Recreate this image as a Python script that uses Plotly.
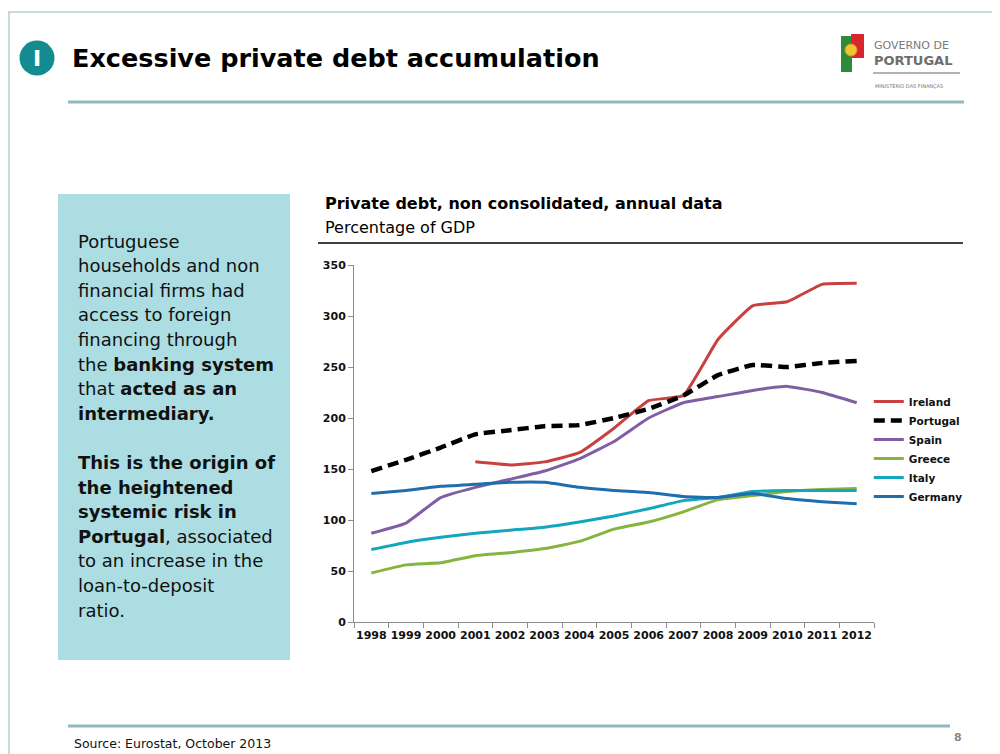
import plotly.graph_objects as go

years = [str(y) for y in range(1998, 2013)]
ireland = [None, None, None, 157, 154, 157, 166, 190, 217, 222, 277, 310, 314, 331, 332]
portugal = [148, 159, 171, 184, 188, 192, 193, 200, 209, 222, 242, 252, 250, 254, 256]
spain = [87, 97, 122, 132, 140, 148, 160, 177, 200, 215, 221, 227, 231, 225, 215]
greece = [48, 56, 58, 65, 68, 72, 79, 91, 98, 108, 120, 124, 128, 130, 131]
italy = [71, 78, 83, 87, 90, 93, 98, 104, 111, 119, 122, 128, 129, 129, 129]
germany = [126, 129, 133, 135, 137, 137, 132, 129, 127, 123, 122, 126, 121, 118, 116]

series = [
    ("Ireland", ireland, "#c8403f", "solid", 3),
    ("Portugal", portugal, "#000000", "11px,6px", 4.5),
    ("Spain", spain, "#7f5ea3", "solid", 3),
    ("Greece", greece, "#86b43f", "solid", 3),
    ("Italy", italy, "#14a6bd", "solid", 3),
    ("Germany", germany, "#1f6dad", "solid", 3),
]

FONT = "DejaVu Sans"

fig = go.Figure()
for name, vals, col, dash, w in series:
    fig.add_trace(go.Scatter(
        x=years, y=vals, name=name, mode="lines",
        line=dict(color=col, width=w, dash=dash, shape="spline", smoothing=0.35),
        connectgaps=False,
    ))

axis_col = "#8c8c8c"
# page is offset by 8px body margin; plot area in page px: x 354-874, y 265-622
fig.update_layout(
    width=992, height=746,
    paper_bgcolor="white", plot_bgcolor="white",
    margin=dict(l=346, r=126, t=257, b=132),
    showlegend=True,
    legend=dict(
        x=0.99, xanchor="left", y=0.658, yanchor="top",
        font=dict(family=FONT, size=10.5, color="#111", weight="bold"),
        itemwidth=30, tracegroupgap=0, bgcolor="rgba(0,0,0,0)",
    ),
    xaxis=dict(
        type="category", range=[-0.5, 14.5], showline=True, linecolor=axis_col, linewidth=1,
        ticks="outside", tickson="boundaries", ticklen=5, tickcolor=axis_col,
        showgrid=False, zeroline=False, tickangle=0, ticklabelstandoff=3,
        tickfont=dict(family=FONT, size=11, color="#111", weight="bold"),
    ),
    yaxis=dict(
        range=[0, 350], tickvals=[0, 50, 100, 150, 200, 250, 300, 350],
        showline=True, linecolor=axis_col, linewidth=1,
        ticks="outside", ticklen=5, tickcolor=axis_col,
        showgrid=False, zeroline=False,
        tickfont=dict(family=FONT, size=11, color="#111", weight="bold"),
    ),
    font=dict(family=FONT),
)

shapes = []
def px_line(x0, y0, x1, y1, color, width):
    shapes.append(dict(type="line", xref="paper", yref="paper",
                       x0=(x0-354)/520, x1=(x1-354)/520,
                       y0=(622-y0)/357, y1=(622-y1)/357,
                       line=dict(color=color, width=width)))
def px_rect(x0, y0, x1, y1, fill, lw=0, lc=None):
    shapes.append(dict(type="rect", xref="paper", yref="paper",
                       x0=(x0-354)/520, x1=(x1-354)/520,
                       y0=(622-y1)/357, y1=(622-y0)/357,
                       fillcolor=fill, line=dict(width=lw, color=lc or fill), layer="below"))
def px_circle(cx, cy, r, fill, lw=0, lc=None):
    shapes.append(dict(type="circle", xref="paper", yref="paper",
                       x0=(cx-r-354)/520, x1=(cx+r-354)/520,
                       y0=(622-cy-r)/357, y1=(622-cy+r)/357,
                       fillcolor=fill, line=dict(width=lw, color=lc or fill)))

px_line(8, 12, 1000, 12, "#b8cfc6", 1.5)
px_line(9, 12, 9, 754, "#b8cfc6", 1.5)
# title rule
px_line(68, 102, 964, 102, "#94b8c0", 3)
# footer rule
px_line(68, 726, 950, 726, "#94b8c0", 3)
# chart title underline
px_line(318, 243, 963, 243, "#000000", 1.5)
# teal circle
px_circle(37, 58, 17.5, "#128c90")
# text box
px_rect(58, 194, 290, 660, "#abdde2")
# logo emblem
px_rect(841, 36, 852, 72, "#2e8b3a")
px_rect(851, 34, 864, 58, "#d8262c")
px_circle(851, 50, 6, "#f2c230", 1, "#c9a020")
px_line(873, 73, 960, 73, "#9a9a9a", 1.5)
fig.update_layout(shapes=shapes)

ann = []
def px_text(x, y, text, size, color="#000", bold=False, xanchor="left", family=FONT):
    ann.append(dict(xref="paper", yref="paper", x=(x-354)/520, y=(622-y)/357,
                    text=text, showarrow=False, xanchor=xanchor, yanchor="middle",
                    font=dict(family=family, size=size, color=color,
                              weight="bold" if bold else "normal")))

px_text(37, 58, "I", 22, "white", True, "center")
px_text(70, 58, "Excessive private debt accumulation", 25.5, "#000", True)
px_text(323, 203, "Private debt, non consolidated, annual data", 16, "#000", True)
px_text(323, 228, "Percentage of GDP", 16, "#000", False)

box_lines = [
    "Portuguese",
    "households and non",
    "financial firms had",
    "access to foreign",
    "financing through",
    "the <b>banking system</b>",
    "that <b>acted as an</b>",
    "<b>intermediary.</b>",
    "",
    "<b>This is the origin of</b>",
    "<b>the heightened</b>",
    "<b>systemic risk in</b>",
    "<b>Portugal</b>, associated",
    "to an increase in the",
    "loan-to-deposit",
    "ratio.",
]
y0 = 241
for i, t in enumerate(box_lines):
    if t:
        px_text(76, y0 + i * 24.6, t, 18, "#111")

px_text(72, 743, "Source: Eurostat, October 2013", 12.5, "#111")
px_text(958, 737, "8", 11, "#888", True, "center")
px_text(872, 45, "GOVERNO DE", 11, "#7a7a7a")
px_text(872, 60, "<b>PORTUGAL</b>", 13, "#6e6e6e")
px_text(873, 86, "MINISTÉRIO DAS FINANÇAS", 5, "#777")
fig.update_layout(annotations=ann)

fig.write_html("out.html")
